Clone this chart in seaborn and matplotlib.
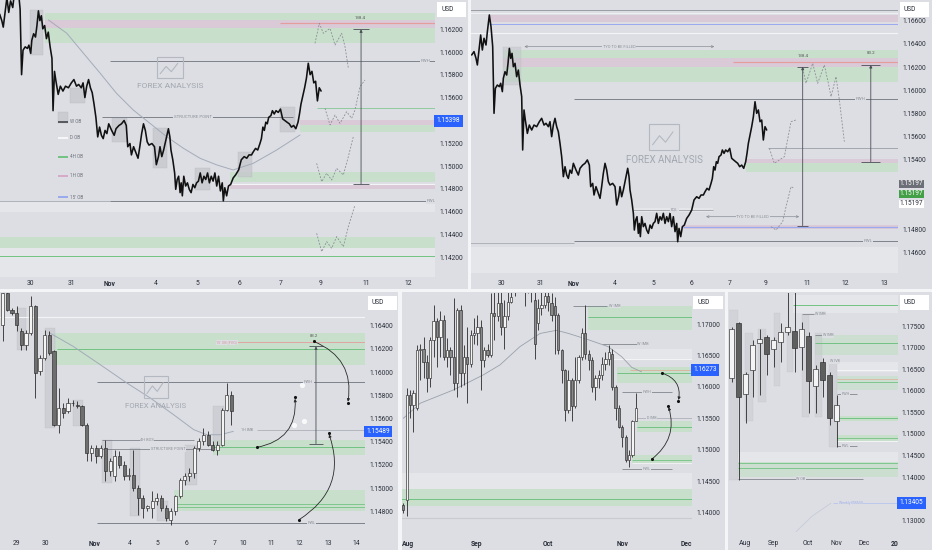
import numpy as np
import pandas as pd
import matplotlib
matplotlib.use("Agg")
import matplotlib.pyplot as plt
import seaborn as sns
from matplotlib.patches import Rectangle, FancyArrowPatch
from matplotlib.lines import Line2D

# ---------------------------------------------------------------- data
# Top panels (15m EURUSD, same series in both): time in trading-day units, price
TOP_T = [-0.789, -0.728, -0.675, -0.640, -0.588, -0.553, -0.509, -0.465, -0.413, -0.377,
         -0.325, -0.281, -0.237, -0.202, -0.167, -0.115, -0.062, -0.027, 0.017, 0.043,
         0.087, 0.131, 0.166, 0.201, 0.236, 0.271, 0.306, 0.350, 0.393, 0.437,
         0.481, 0.525, 0.551, 0.586, 0.621, 0.674, 0.726, 0.788, 0.849, 0.919,
         0.989, 1.050, 1.112, 1.164, 1.226, 1.269, 1.313, 1.357, 1.401, 1.445,
         1.488, 1.532, 1.576, 1.620, 1.664, 1.708, 1.751, 1.795, 1.839, 1.883,
         1.953, 2.014, 2.058, 2.128, 2.189, 2.251, 2.303, 2.338, 2.391, 2.426,
         2.478, 2.522, 2.584, 2.627, 2.671, 2.715, 2.759, 2.803, 2.846, 2.916,
         2.978, 3.022, 3.074, 3.109, 3.153, 3.197, 3.241, 3.285, 3.311, 3.346,
         3.372, 3.416, 3.460, 3.486, 3.521, 3.556, 3.591, 3.617, 3.644, 3.679,
         3.723, 3.766, 3.810, 3.854, 3.898, 3.942, 3.985, 4.029, 4.073, 4.117,
         4.161, 4.204, 4.248, 4.292, 4.336, 4.380, 4.423, 4.467, 4.511, 4.555,
         4.599, 4.625, 4.660, 4.704, 4.748, 4.800, 4.861, 4.923, 4.993, 5.054,
         5.124, 5.186, 5.238, 5.300, 5.343, 5.396, 5.448, 5.501, 5.536, 5.571,
         5.606, 5.641, 5.676, 5.711, 5.764, 5.799, 5.843, 5.886, 5.939, 5.992,
         6.044, 6.097, 6.149, 6.202, 6.254, 6.307, 6.360, 6.412, 6.447, 6.482,
         6.526, 6.570, 6.614, 6.657, 6.701, 6.745, 6.789, 6.833, 6.876, 6.920, 6.964]
TOP_P = [1.16305, 1.16334, 1.16276, 1.16219, 1.16377, 1.16477, 1.16348, 1.16449, 1.16391, 1.16506,
         1.16650, 1.16549, 1.16377, 1.15802, 1.16017, 1.16046, 1.16032, 1.16061, 1.15989, 1.16104,
         1.16161, 1.16132, 1.16233, 1.16362, 1.16276, 1.16319, 1.16204, 1.16233, 1.16118, 1.16175,
         1.16046, 1.15946, 1.15486, 1.15831, 1.15744, 1.15629, 1.15701, 1.15658, 1.15701, 1.15687,
         1.15730, 1.15759, 1.15701, 1.15716, 1.15687, 1.15730, 1.15601, 1.15701, 1.15759, 1.15687,
         1.15644, 1.15543, 1.15428, 1.15256, 1.15342, 1.15270, 1.15241, 1.15313, 1.15285, 1.15371,
         1.15313, 1.15270, 1.15328, 1.15356, 1.15371, 1.15400, 1.15356, 1.15170, 1.15198, 1.15098,
         1.15170, 1.15127, 1.15069, 1.15170, 1.15285, 1.15371, 1.15313, 1.15213, 1.15184, 1.15198,
         1.15170, 1.15012, 1.15084, 1.15170, 1.15083, 1.15141, 1.15213, 1.15285, 1.15328, 1.15256,
         1.15141, 1.15055, 1.14940, 1.14796, 1.14882, 1.14911, 1.14767, 1.14853, 1.14739, 1.14911,
         1.14825, 1.14853, 1.14796, 1.14767, 1.14839, 1.14810, 1.14853, 1.14868, 1.14940, 1.14853,
         1.14911, 1.14882, 1.14940, 1.14853, 1.14911, 1.14868, 1.14940, 1.14825, 1.14911, 1.14782,
         1.14853, 1.14695, 1.14810, 1.14739, 1.14825, 1.14839, 1.14896, 1.14925, 1.14968, 1.15055,
         1.15083, 1.15069, 1.15098, 1.15098, 1.15126, 1.15155, 1.15141, 1.15198, 1.15241, 1.15342,
         1.15313, 1.15385, 1.15371, 1.15428, 1.15443, 1.15486, 1.15457, 1.15486, 1.15471, 1.15500,
         1.15414, 1.15399, 1.15385, 1.15371, 1.15342, 1.15356, 1.15328, 1.15385, 1.15457, 1.15543,
         1.15615, 1.15687, 1.15773, 1.15902, 1.15802, 1.15831, 1.15730, 1.15744, 1.15572, 1.15687, 1.15658]
A_TICKS_X = [0, 1.0, 1.9, 3.0, 4.0, 5.0, 6.0, 6.94, 8.04, 9.04]
A_LABELS_X = ["30", "31", "Nov", "4", "5", "6", "7", "9", "11", "12"]
A_TICKS_Y = [1.142, 1.144, 1.146, 1.148, 1.150, 1.152, 1.156, 1.158, 1.160, 1.162]
B_TICKS_X = [0, 1.007, 1.892, 2.978, 3.995, 5.0, 6.0, 6.938, 8.024, 9.04, 10.05]
B_LABELS_X = ["30", "31", "Nov", "4", "5", "6", "7", "9", "11", "12", "13"]
B_TICKS_Y = [1.146, 1.148, 1.154, 1.156, 1.158, 1.160, 1.162, 1.164, 1.166]
A_EMA_T = [0.44, 0.88, 1.28, 1.68, 2.07, 2.47, 2.87, 3.27, 3.67, 4.07, 4.47, 4.86, 5.34, 5.90, 6.46]
A_EMA_P = [1.16282, 1.16165, 1.15989, 1.15814, 1.15638, 1.15492, 1.15375, 1.15258, 1.15156,
           1.15068, 1.15010, 1.14966, 1.15024, 1.15141, 1.15273]

# Bottom-left (4h candles)
C_O = [1.16409, 1.16682, 1.16538, 1.16509, 1.16351, 1.16236, 1.16337, 1.16567, 1.16007, 1.16121,
       1.16323, 1.16179, 1.15547, 1.15690, 1.15662, 1.15733, 1.15719, 1.15705, 1.15547, 1.15302,
       1.15345, 1.15274, 1.15345, 1.15144, 1.15101, 1.15274, 1.15202, 1.15101, 1.15116, 1.15001,
       1.14914, 1.14828, 1.14828, 1.14886, 1.14914, 1.14828, 1.14728, 1.14799, 1.14929, 1.15072,
       1.15101, 1.15130, 1.15345, 1.15403, 1.15460, 1.15374, 1.15331, 1.15374, 1.15676, 1.15805]
C_H = [1.16725, 1.16725, 1.16553, 1.16567, 1.16380, 1.16366, 1.16653, 1.16581, 1.16150, 1.16366,
       1.16351, 1.16193, 1.15863, 1.15733, 1.15777, 1.15762, 1.15748, 1.15719, 1.15561, 1.15374,
       1.15374, 1.15374, 1.15417, 1.15259, 1.15331, 1.15317, 1.15231, 1.15173, 1.15331, 1.15029,
       1.14943, 1.14857, 1.14972, 1.14958, 1.14943, 1.14857, 1.14828, 1.14943, 1.15087, 1.15130,
       1.15173, 1.15360, 1.15432, 1.15518, 1.15489, 1.15403, 1.15403, 1.15690, 1.15906, 1.15834]
C_L = [1.16265, 1.16524, 1.16495, 1.16351, 1.16193, 1.16193, 1.16323, 1.15777, 1.15978, 1.16107,
       1.16150, 1.15532, 1.15475, 1.15604, 1.15647, 1.15705, 1.15690, 1.15532, 1.15231, 1.15231,
       1.15216, 1.15259, 1.15058, 1.15101, 1.15058, 1.15173, 1.15072, 1.15072, 1.14972, 1.14771,
       1.14742, 1.14799, 1.14742, 1.14857, 1.14799, 1.14713, 1.14684, 1.14771, 1.14914, 1.15029,
       1.15058, 1.15087, 1.15317, 1.15374, 1.15360, 1.15317, 1.15288, 1.15360, 1.15662, 1.15547]
C_C = [1.16682, 1.16538, 1.16509, 1.16409, 1.16236, 1.16337, 1.16567, 1.15992, 1.16121, 1.16323,
       1.16165, 1.15547, 1.15690, 1.15647, 1.15733, 1.15730, 1.15705, 1.15547, 1.15302, 1.15345,
       1.15274, 1.15345, 1.15144, 1.15231, 1.15274, 1.15202, 1.15101, 1.15116, 1.15001, 1.14914,
       1.14828, 1.14843, 1.14886, 1.14914, 1.14828, 1.14742, 1.14799, 1.14929, 1.15072, 1.15101,
       1.15130, 1.15345, 1.15403, 1.15460, 1.15374, 1.15331, 1.15374, 1.15676, 1.15805, 1.15662]
C_TICKS_X = [3.0, 9.07, 19.6, 27.3, 33.2, 39.3, 45.4, 51.5, 57.6, 63.6, 69.7, 75.7]
C_LABELS_X = ["29", "30", "Nov", "4", "5", "6", "7", "10", "11", "12", "13", "14"]
C_TICKS_Y = [1.148, 1.150, 1.152, 1.154, 1.156, 1.158, 1.160, 1.162, 1.164]
C_EMA_X = [10.1, 15.1, 20.9, 26.6, 31.6, 36.6, 40.9, 43.7, 46.6, 49.4]
C_EMA_P = [1.16337, 1.16222, 1.16064, 1.15906, 1.15777, 1.15633, 1.15504, 1.15460, 1.15460, 1.15489]

# Bottom-middle (daily candles)
D_O = [1.1412, 1.1420, 1.1587, 1.1571, 1.1566, 1.1659, 1.1661, 1.1640, 1.1614, 1.1674,
       1.1704, 1.1680, 1.1706, 1.1648, 1.1659, 1.1648, 1.1606, 1.1722, 1.1622, 1.1648,
       1.1637, 1.1682, 1.1685, 1.1696, 1.1643, 1.1659, 1.1651, 1.1717, 1.1712, 1.1733,
       1.1696, 1.1712, 1.1735, 1.1760, 1.1800, 1.1780, 1.1850, 1.1760, 1.1800, 1.1738,
       1.1701, 1.1725, 1.1730, 1.1744, 1.1733, 1.1728, 1.1714, 1.1659, 1.1627, 1.1563,
       1.1611, 1.1569, 1.1611, 1.1648, 1.1685, 1.1653, 1.1643, 1.1600, 1.1614, 1.1619,
       1.1637, 1.1645, 1.1653, 1.1600, 1.1566, 1.1537, 1.1521, 1.1484, 1.1492, 1.1545]
D_H = [1.1415, 1.1598, 1.1595, 1.1595, 1.1667, 1.1669, 1.1680, 1.1651, 1.1680, 1.1730,
       1.1709, 1.1720, 1.1714, 1.1677, 1.1664, 1.1741, 1.1725, 1.1730, 1.1667, 1.1696,
       1.1690, 1.1709, 1.1714, 1.1706, 1.1664, 1.1669, 1.1749, 1.1760, 1.1760, 1.1760,
       1.1738, 1.1760, 1.1770, 1.1830, 1.1840, 1.1870, 1.1880, 1.1900, 1.1830, 1.1770,
       1.1740, 1.1760, 1.1770, 1.1760, 1.1750, 1.1743, 1.1717, 1.1661, 1.1629, 1.1627,
       1.1614, 1.1648, 1.1651, 1.1693, 1.1730, 1.1659, 1.1648, 1.1619, 1.1627, 1.1648,
       1.1656, 1.1667, 1.1661, 1.1603, 1.1571, 1.1539, 1.1523, 1.1500, 1.1547, 1.1590]
D_L = [1.1399, 1.1394, 1.1550, 1.1529, 1.1563, 1.1611, 1.1614, 1.1592, 1.1600, 1.1648,
       1.1632, 1.1648, 1.1643, 1.1632, 1.1619, 1.1595, 1.1584, 1.1600, 1.1603, 1.1574,
       1.1632, 1.1669, 1.1667, 1.1595, 1.1632, 1.1648, 1.1648, 1.1674, 1.1704, 1.1682,
       1.1661, 1.1706, 1.1733, 1.1745, 1.1755, 1.1765, 1.1728, 1.1750, 1.1735, 1.1645,
       1.1690, 1.1715, 1.1725, 1.1720, 1.1705, 1.1653, 1.1653, 1.1606, 1.1545, 1.1558,
       1.1545, 1.1566, 1.1606, 1.1643, 1.1645, 1.1627, 1.1592, 1.1579, 1.1598, 1.1611,
       1.1627, 1.1635, 1.1595, 1.1547, 1.1534, 1.1505, 1.1481, 1.1473, 1.1489, 1.1545]
D_C = [1.1404, 1.1587, 1.1571, 1.1590, 1.1659, 1.1661, 1.1640, 1.1614, 1.1674, 1.1704,
       1.1680, 1.1706, 1.1648, 1.1659, 1.1648, 1.1606, 1.1722, 1.1622, 1.1648, 1.1637,
       1.1682, 1.1685, 1.1696, 1.1643, 1.1659, 1.1651, 1.1717, 1.1712, 1.1733, 1.1696,
       1.1712, 1.1735, 1.1743, 1.1800, 1.1780, 1.1850, 1.1760, 1.1800, 1.1770, 1.1669,
       1.1725, 1.1730, 1.1744, 1.1735, 1.1714, 1.1714, 1.1659, 1.1627, 1.1563, 1.1611,
       1.1569, 1.1611, 1.1648, 1.1685, 1.1653, 1.1643, 1.1600, 1.1614, 1.1619, 1.1637,
       1.1645, 1.1656, 1.1600, 1.1566, 1.1537, 1.1521, 1.1484, 1.1492, 1.1545, 1.1566]
D_TICKS_X = [1.4, 21.8, 42.8, 65.1, 84.1]
D_LABELS_X = ["Aug", "Sep", "Oct", "Nov", "Dec"]
D_TICKS_Y = [1.140, 1.145, 1.150, 1.155, 1.160, 1.165, 1.170]
D_EMA_X = [0, 5, 14.8, 23.7, 28.7, 34.6, 40.6, 45.5, 49.0, 54.9, 60.8, 64.8, 67.8, 70.7]
D_EMA_P = [1.1550, 1.1574, 1.1595, 1.1619, 1.1635, 1.1664, 1.1685, 1.1690, 1.1685, 1.1675,
           1.1664, 1.1648, 1.1631, 1.1624]

# Bottom-right (weekly candles)
E_O = [1.1629, 1.1756, 1.1593, 1.1648, 1.1711, 1.1724, 1.1696, 1.1714, 1.1735, 1.1738,
       1.1702, 1.1727, 1.1610, 1.1667, 1.1636, 1.1531]
E_H = [1.1748, 1.1760, 1.1644, 1.1718, 1.1742, 1.1729, 1.1725, 1.1756, 1.1880, 1.1880,
       1.1760, 1.1737, 1.1660, 1.1675, 1.1644, 1.1590]
E_L = [1.1621, 1.1393, 1.1525, 1.1586, 1.1590, 1.1637, 1.1656, 1.1667, 1.1729, 1.1644,
       1.1648, 1.1548, 1.1548, 1.1586, 1.1521, 1.1471]
E_C = [1.1742, 1.1586, 1.1640, 1.1706, 1.1721, 1.1685, 1.1718, 1.1735, 1.1747, 1.1698,
       1.1742, 1.1623, 1.1650, 1.1625, 1.1536, 1.1566]
E_TICKS_X = [1.9, 5.9, 10.9, 14.9, 18.9, 23.3]
E_LABELS_X = ["Aug", "Sep", "Oct", "Nov", "Dec", "20"]
E_TICKS_Y = [1.130, 1.140, 1.145, 1.150, 1.155, 1.160, 1.165, 1.170, 1.175]

# ---------------------------------------------------------------- style
sns.set_theme(style="white")
plt.rcParams["font.family"] = ["Roboto", "DejaVu Sans"]

W, H = 932, 550
BG = "#dcdee3"
GAP = "#f4f5f7"
TXT = "#2b2f3a"
MUTED = "#8c9097"
GREEN_BAND = "#c8dfcc"
GREEN_LINE = "#72c383"
PINK_BAND = "#dac9d7"
RED_LINE = "#e59c9c"
BLUE_LINE = "#98a9ee"
LIGHT_BAND = "#e5e6e9"
OB_GRAY = "#c4c6cb"
BLUE_LABEL = "#2962ff"
WM = "#d4d6db"

fig = plt.figure(figsize=(W / 100, H / 100), dpi=100, facecolor=GAP)


def frac_rect(x0, y0, x1, y1):
    return [x0 / W, 1 - y1 / H, (x1 - x0) / W, (y1 - y0) / H]


def panel_bg(x0, y0, x1, y1):
    r = frac_rect(x0, y0, x1, y1)
    fig.add_artist(Rectangle((r[0], r[1]), r[2], r[3], transform=fig.transFigure,
                             fc=BG, ec="none", zorder=-5))


def make_axes(rect, xlim, ylim, yticks, xticks, xlabels, bold, ypad=3.4, xpad=2.5):
    ax = fig.add_axes(frac_rect(*rect))
    ax.set_facecolor(BG)
    ax.set_xlim(*xlim)
    ax.set_ylim(*ylim)
    for s in ax.spines.values():
        s.set_visible(False)
    ax.grid(False)
    ax.yaxis.tick_right()
    ax.set_yticks(yticks)
    ax.set_yticklabels([f"{v:.5f}" for v in yticks])
    ax.tick_params(axis="y", length=0, pad=ypad, labelsize=4.7, colors=TXT,
                   left=False, labelleft=False, right=False, labelright=True)
    ax.set_xticks(xticks)
    ax.set_xticklabels(xlabels)
    ax.tick_params(axis="x", length=0, pad=xpad, labelsize=4.9, colors=TXT)
    for lbl in ax.get_xticklabels():
        if lbl.get_text() in bold:
            lbl.set_fontweight("bold")
    ax.set_xlabel("")
    ax.set_ylabel("")
    return ax


def band(ax, x0, x1, lo, hi, color, alpha=1.0, z=1):
    xa, xb = ax.get_xlim()
    x0 = xa - 1 if x0 is None else x0
    x1 = xb + 1 if x1 is None else x1
    ax.add_patch(Rectangle((x0, lo), x1 - x0, hi - lo, fc=color, ec="none",
                           alpha=alpha, zorder=z))


def hline(ax, x0, x1, p, color, lw=0.6, z=2):
    xa, xb = ax.get_xlim()
    x0 = xa - 1 if x0 is None else x0
    x1 = xb + 1 if x1 is None else x1
    ax.hlines(p, x0, x1, colors=color, lw=lw, zorder=z)


def tag(ax, x, p, s, color=MUTED, fs=3.2, box=True):
    kw = dict(fontsize=fs, color=color, ha="center", va="center", zorder=6)
    if box:
        kw["bbox"] = dict(fc=BG, ec="none", pad=0.4)
    ax.text(x, p, s, **kw)


def ob(ax, x0, x1, lo, hi, alpha=0.75):
    ax.add_patch(Rectangle((x0, lo), x1 - x0, hi - lo, fc=OB_GRAY, ec="#b5b7bd",
                           lw=0.3, alpha=alpha, zorder=1.5))


def candles(ax, x, o, h, l, c, width, bear="#6e6e6e", bull="#f4f4f4"):
    x = np.asarray(x, float)
    o, h, l, c = map(np.asarray, (o, h, l, c))
    ax.vlines(x, l, h, colors="#2a2a2a", lw=0.6, zorder=3)
    body_lo = np.minimum(o, c)
    body_h = np.maximum(np.abs(c - o), (ax.get_ylim()[1] - ax.get_ylim()[0]) * 0.003)
    faces = [bull if cc >= oo else bear for oo, cc in zip(o, c)]
    ax.bar(x, body_h, bottom=body_lo, width=width, color=faces, edgecolor="#2a2a2a",
           linewidth=0.45, zorder=3.5)


def measure(ax, x, lo, hi, half):
    ax.annotate("", xy=(x, hi), xytext=(x, lo),
                arrowprops=dict(arrowstyle="-|>", lw=0.6, color="#4a4d55",
                                mutation_scale=4, shrinkA=0, shrinkB=0), zorder=5)
    ax.hlines([lo, hi], x - half, x + half, colors="#4a4d55", lw=0.6, zorder=5)


def dashed(ax, xs, ps):
    ax.plot(xs, ps, color="#8b8e95", lw=0.6, dashes=(2.2, 1.8), zorder=4)


def tyo(ax, x0, x1, p, s):
    ax.annotate("", xy=(x0, p), xytext=(x1, p),
                arrowprops=dict(arrowstyle="<->", lw=0.5, color="#8b8e95",
                                mutation_scale=4, shrinkA=0, shrinkB=0), zorder=4)
    tag(ax, (x0 + x1) / 2, p, s, fs=2.8)


def curve(ax, a, b, rad):
    ax.add_patch(FancyArrowPatch(a, b, connectionstyle=f"arc3,rad={rad}",
                                 arrowstyle="-|>", mutation_scale=4, lw=0.6,
                                 color="#2a2a2a", zorder=5, shrinkA=0, shrinkB=1))
    ax.scatter([a[0], b[0]], [a[1], b[1]], s=5, color="#111", zorder=6, linewidths=0)


def price_box(ax, p, text, fc, tc="white", dx=0.004, pad=0.35):
    ax.text(1 + dx, p, text, transform=ax.get_yaxis_transform(), ha="left", va="center",
            fontsize=4.7, color=tc, zorder=8, clip_on=False,
            bbox=dict(boxstyle=f"square,pad={pad}", fc=fc, ec="none"))


def usd_box(x0, y0, x1, y1):
    r = frac_rect(x0, y0, x1, y1)
    fig.add_artist(Rectangle((r[0], r[1]), r[2], r[3], transform=fig.transFigure,
                             fc="white", ec="none", zorder=10))
    fig.text((x0 + 4) / W, 1 - (y0 + y1) / 2 / H, "USD", fontsize=4.8, color=TXT,
             ha="left", va="center", zorder=11)


def brand(cx, ty, logo_w, logo_h, fs):
    x0, y0 = cx - logo_w / 2, ty
    r = frac_rect(x0, y0, x0 + logo_w, y0 + logo_h)
    fig.add_artist(Rectangle((r[0], r[1]), r[2], r[3], transform=fig.transFigure,
                             fill=False, ec="#b4b8c0", lw=0.8, zorder=4))
    zx = [x0 + logo_w * f for f in (0.12, 0.35, 0.55, 0.8)]
    zy = [y0 + logo_h * f for f in (0.8, 0.45, 0.7, 0.3)]
    fig.add_artist(Line2D([v / W for v in zx], [1 - v / H for v in zy],
                          transform=fig.transFigure, color="#b4b8c0", lw=0.8, zorder=4))
    fig.text(cx / W, 1 - (ty + logo_h + fs * 1.4) / H, "FOREX ANALYSIS", fontsize=fs,
             color="#a3a7af", ha="center", va="center", zorder=4)


def watermark(cx, cy, s, fs):
    fig.text(cx / W, 1 - cy / H, s, fontsize=fs, color=WM, ha="center", va="center",
             zorder=-4, fontweight="bold")


# ---------------------------------------------------------------- panel backgrounds
panel_bg(0, 0, 468, 289)
panel_bg(471, 0, 932, 289)
panel_bg(0, 292, 398, 550)
panel_bg(402, 292, 725, 550)
panel_bg(728, 292, 932, 550)

watermark(235, 138, "EURUSD, 1h", 27)
watermark(690, 128, "EURUSD, 15", 34)
watermark(200, 383, "EURUSD, 4h", 20)
watermark(557, 407, "EURUSD, 1D", 20)
watermark(820, 405, "EURUSD, 1W", 15)

# ================================================================ Panel A (top-left)
axA = make_axes((0, 0, 435, 277), (-0.718, 9.689), (1.14027, 1.16457),
                A_TICKS_Y, A_TICKS_X, A_LABELS_X, {"Nov"})
band(axA, 0.36, None, 1.16077, 1.16340, GREEN_BAND)
band(axA, 0.36, None, 1.16208, 1.16282, PINK_BAND)
band(axA, 6.46, None, 1.15361, 1.15404, PINK_BAND)
band(axA, 6.46, None, 1.15302, 1.15361, GREEN_BAND)
band(axA, 4.78, None, 1.14864, 1.14951, GREEN_BAND)
band(axA, 4.78, None, 1.14796, 1.14834, PINK_BAND)
band(axA, None, None, 1.14600, 1.14688, LIGHT_BAND)
band(axA, None, None, 1.14279, 1.14381, GREEN_BAND)
band(axA, None, None, 1.14030, 1.14279, LIGHT_BAND)
hline(axA, 5.98, None, 1.16252, RED_LINE, 0.8)
hline(axA, 1.91, None, 1.15922, "#6f737b", 0.6)
hline(axA, 1.72, 6.3, 1.15434, "#6f737b", 0.6)
hline(axA, 6.86, None, 1.15507, GREEN_LINE, 0.5)
hline(axA, 4.78, None, 1.14840, "#f3f4f6", 0.8)
hline(axA, None, 1.91, 1.14694, "#9da1a8", 0.5)
hline(axA, 1.91, None, 1.14694, "#6f737b", 0.6)
hline(axA, None, None, 1.14214, GREEN_LINE, 0.7)
for r in [(0.0, 0.32, 1.15975, 1.16369), (0.957, 1.316, 1.15550, 1.15682),
          (1.954, 2.313, 1.15214, 1.15419), (2.95, 3.27, 1.14980, 1.15331),
          (3.95, 4.31, 1.14790, 1.14980), (4.98, 5.30, 1.14907, 1.15127),
          (5.98, 6.34, 1.15302, 1.15521)]:
    ob(axA, *r)
sns.lineplot(x=A_EMA_T, y=A_EMA_P, ax=axA, color="#a4abb8", lw=0.7, estimator=None,
             sort=False, zorder=2)
sns.lineplot(x=TOP_T, y=TOP_P, ax=axA, color="#111111", lw=1.15, estimator=None,
             sort=False, zorder=3)
tag(axA, 3.9, 1.15434, "STRUCTURE POINT")
tag(axA, 9.45, 1.15922, "PWH")
tag(axA, 9.6, 1.14694, "PWL")
tag(axA, 7.89, 1.16296, "138.4", color="#555", box=False)
measure(axA, 7.92, 1.14840, 1.16200, 0.2)
dashed(axA, [6.818, 6.922, 7.018, 7.177, 7.297, 7.456, 7.536, 7.616],
       [1.16077, 1.16252, 1.16165, 1.16208, 1.16062, 1.16165, 1.16048, 1.15858])
dashed(axA, [7.057, 7.177, 7.297, 7.416, 7.576, 7.695, 7.775, 7.895, 8.014],
       [1.15507, 1.15361, 1.15448, 1.15375, 1.15477, 1.15419, 1.15492, 1.15697, 1.15755])
dashed(axA, [6.858, 6.978, 7.097, 7.217, 7.336, 7.496, 7.616, 7.735],
       [1.15024, 1.14863, 1.14937, 1.14878, 1.14980, 1.14922, 1.15083, 1.15258])
dashed(axA, [6.858, 6.978, 7.097, 7.217, 7.336, 7.496, 7.616, 7.775],
       [1.14410, 1.14249, 1.14337, 1.14279, 1.14381, 1.14293, 1.14469, 1.14659])
ob(axA, 0.67, 0.91, 1.15375, 1.15477)
legend_items = [("W OB", 1.15389, "#55585f"), ("D OB", 1.15249, "#f7f7f7"),
                ("4H OB", 1.15082, GREEN_LINE), ("1H OB", 1.14916, "#d8a9c9"),
                ("15' OB", 1.14726, BLUE_LINE)]
for name, p, col in legend_items:
    axA.hlines(p, 0.67, 0.91, colors=col, lw=1.4, zorder=4)
    axA.text(0.95, p, name, fontsize=3.3, color="#6f737b", ha="left", va="center", zorder=5)
price_box(axA, 1.15398, "1.15398", BLUE_LABEL)

# ================================================================ Panel B (top-right)
axB = make_axes((471, 0, 898, 277), (-0.807, 10.415), (1.14391, 1.16779),
                B_TICKS_Y, B_TICKS_X, B_LABELS_X, {"Nov"})
band(axB, -0.325, None, 1.16592, 1.16650, PINK_BAND)
band(axB, 0.026, None, 1.16075, 1.16348, GREEN_BAND)
band(axB, 0.026, None, 1.16204, 1.16276, PINK_BAND)
band(axB, 6.42, None, 1.15371, 1.15405, PINK_BAND)
band(axB, 6.42, None, 1.15299, 1.15371, GREEN_BAND)
band(axB, 4.76, None, 1.14808, 1.14842, PINK_BAND)
band(axB, 3.44, 5.54, 1.14950, 1.14985, LIGHT_BAND)
band(axB, None, None, 1.14423, 1.14652, LIGHT_BAND)
ob(axB, 0.026, 0.507, 1.16050, 1.16377, alpha=0.55)
hline(axB, None, None, 1.16693, "#8e9299", 0.6)
hline(axB, None, None, 1.16670, "#f3f4f6", 0.6)
hline(axB, -0.325, None, 1.16572, BLUE_LINE, 0.7)
hline(axB, None, None, 1.16492, "#f3f4f6", 0.8)
hline(axB, 6.07, None, 1.16247, RED_LINE, 0.8)
hline(axB, 1.909, None, 1.15923, "#6f737b", 0.6)
hline(axB, 6.99, None, 1.15506, "#8e9299", 0.5)
hline(axB, 3.44, 5.54, 1.14968, "#8e9299", 0.5)
hline(axB, 4.76, None, 1.14825, BLUE_LINE, 0.8)
hline(axB, 1.909, None, 1.14704, "#6f737b", 0.6)
hline(axB, None, 1.909, 1.14681, "#9da1a8", 0.5)
sns.lineplot(x=TOP_T, y=TOP_P, ax=axB, color="#111111", lw=1.15, estimator=None,
             sort=False, zorder=3)
tag(axB, 9.44, 1.15923, "PWH")
tag(axB, 9.62, 1.14704, "PWL")
tag(axB, 4.54, 1.14968, "EQL", fs=2.8)
tag(axB, 7.91, 1.16300, "138.4", color="#555", box=False)
tag(axB, 9.70, 1.16320, "83.2", color="#555", box=False)
tyo(axB, 0.595, 5.588, 1.16377, "TYO TO BE FILLED")
tyo(axB, 5.37, 7.82, 1.14911, "TYO TO BE FILLED")
measure(axB, 7.91, 1.14834, 1.16204, 0.15)
measure(axB, 9.70, 1.15385, 1.16219, 0.25)
dashed(axB, [7.910, 7.998, 8.173, 8.304, 8.479, 8.567, 8.655, 8.786, 8.874, 9.005],
       [1.16190, 1.16061, 1.16233, 1.16061, 1.16219, 1.16089, 1.15946, 1.16118, 1.15917, 1.15558])
dashed(axB, [7.034, 7.165, 7.297, 7.428, 7.603, 7.735],
       [1.15500, 1.15371, 1.15400, 1.15428, 1.15730, 1.15745])
dashed(axB, [7.078, 7.209, 7.384, 7.472, 7.603, 7.691],
       [1.14825, 1.14796, 1.14868, 1.14997, 1.15170, 1.15155])
price_box(axB, 1.15193, "1.15197", "#6c6f77", pad=0.12)
price_box(axB, 1.15107, "1.15197", "#43a047", pad=0.12)
price_box(axB, 1.15021, "1.15197", "white", tc=TXT, pad=0.12)

# ================================================================ Panel C (bottom-left)
axC = make_axes((0, 293, 365, 534), (-0.57, 77.6), (1.14604, 1.16682),
                C_TICKS_Y, C_TICKS_X, C_LABELS_X, {"Nov"}, xpad=4.0)
band(axC, 10.9, None, 1.16064, 1.16337, GREEN_BAND)
band(axC, 45.1, None, 1.15288, 1.15417, GREEN_BAND)
band(axC, 36.6, None, 1.14800, 1.14987, GREEN_BAND)
hline(axC, None, None, 1.16472, "#f3f4f6", 0.8)
hline(axC, 11.6, None, 1.16202, GREEN_LINE, 0.7)
hline(axC, 49.4, None, 1.16257, RED_LINE, 0.6)
hline(axC, 20.1, None, 1.15915, "#6f737b", 0.6)
hline(axC, 54.4, None, 1.15504, "#a3a7ae", 0.5)
hline(axC, 45.1, None, 1.15351, GREEN_LINE, 0.7)
hline(axC, 21.2, 40.9, 1.15417, "#6f737b", 0.5)
hline(axC, 21.2, 45.1, 1.15337, "#6f737b", 0.5)
hline(axC, 36.6, None, 1.14863, GREEN_LINE, 0.6)
hline(axC, 36.6, None, 1.14834, GREEN_LINE, 0.6)
hline(axC, 20.1, None, 1.14699, "#6f737b", 0.6)
for r in [(9.1, 11.2, 1.15518, 1.16380), (3.0, 5.1, 1.16193, 1.16553),
          (15.1, 17.3, 1.15532, 1.15762), (21.2, 23.4, 1.15044, 1.15417),
          (27.3, 29.4, 1.14756, 1.15345), (33.0, 35.5, 1.14713, 1.14886),
          (39.1, 41.6, 1.15029, 1.15374), (45.1, 47.3, 1.15374, 1.15705)]:
    ob(axC, *r, alpha=0.6)
sns.lineplot(x=C_EMA_X, y=C_EMA_P, ax=axC, color="#a4abb8", lw=0.7, estimator=None,
             sort=False, zorder=2)
candles(axC, np.arange(len(C_O)), C_O, C_H, C_L, C_C, 0.66)
tag(axC, 30.9, 1.15417, "4H BOS", fs=2.9)
tag(axC, 35.5, 1.15337, "STRUCTURE POINT", fs=2.9)
tag(axC, 65.5, 1.15915, "PWH", fs=2.9)
tag(axC, 66.2, 1.14699, "PWL", fs=2.9)
tag(axC, 48.0, 1.16257, "15' OB (FVG)", color="#d49a9a", fs=2.7)
tag(axC, 52.3, 1.15504, "1H IMB", fs=2.7)
tag(axC, 66.6, 1.16308, "83.2", color="#555", box=False, fs=3.0)
measure(axC, 67.1, 1.15383, 1.16222, 1.6)
curve(axC, (54.4, 1.15351), (62.6, 1.15782), 0.45)
curve(axC, (63.5, 1.14728), (69.8, 1.15475), 0.4)
curve(axC, (66.6, 1.16265), (73.9, 1.15733), -0.4)
axC.scatter([64.1, 62.3, 64.6], [1.15892, 1.15547, 1.15581], s=14, color="white",
            alpha=0.85, linewidths=0, zorder=6)
price_box(axC, 1.15489, "1.15489", BLUE_LABEL)

# ================================================================ Panel D (bottom-middle)
axD = make_axes((402, 293, 692, 534), (-0.39, 85.67), (1.13661, 1.17493),
                D_TICKS_Y, D_TICKS_X, D_LABELS_X, set(D_LABELS_X), xpad=4.0)
band(axD, None, None, 1.1436, 1.1463, LIGHT_BAND)
band(axD, None, None, 1.1410, 1.1437, GREEN_BAND)
hline(axD, None, None, 1.1422, GREEN_LINE, 0.7)
hline(axD, None, None, 1.1391, "#c9cbd0", 0.8)
band(axD, 54.9, None, 1.1690, 1.1728, GREEN_BAND)
hline(axD, 54.9, None, 1.1711, GREEN_LINE, 0.7)
band(axD, 62.3, None, 1.1643, 1.1661, LIGHT_BAND)
hline(axD, 62.3, None, 1.1645, "#f3f4f6", 0.8)
band(axD, 63.3, None, 1.1606, 1.1632, GREEN_BAND)
hline(axD, 63.3, None, 1.1622, GREEN_LINE, 0.7)
hline(axD, 67.3, None, 1.1627, "#d9b6a0", 0.7)
band(axD, 69.3, None, 1.1529, 1.1545, GREEN_BAND)
hline(axD, 69.3, None, 1.1537, GREEN_LINE, 0.7)
hline(axD, 69.3, None, 1.1550, "#a3a7ae", 0.5)
band(axD, 67.8, None, 1.1479, 1.1492, GREEN_BAND)
hline(axD, 67.8, None, 1.1484, GREEN_LINE, 0.6)
hline(axD, 67.8, None, 1.1479, "#f3f4f6", 0.6)
hline(axD, 50.5, 60.4, 1.1729, "#6f737b", 0.5)
hline(axD, 58.9, 69.8, 1.1669, "#6f737b", 0.5)
hline(axD, 64.8, 79.6, 1.1592, "#6f737b", 0.5)
hline(axD, 64.8, 79.6, 1.1470, "#6f737b", 0.5)
sns.lineplot(x=D_EMA_X, y=D_EMA_P, ax=axD, color="#9aa0aa", lw=0.6, estimator=None,
             sort=False, zorder=2)
candles(axD, np.arange(len(D_O)), D_O, D_H, D_L, D_C, 0.68, bear="#8a8a8a")
tag(axD, 62.8, 1.1729, "W IMB", fs=2.8)
tag(axD, 71.2, 1.1669, "W IMB", fs=2.8)
tag(axD, 72.2, 1.1592, "PWH", fs=2.8)
tag(axD, 72.2, 1.1470, "PWL", fs=2.8)
tag(axD, 73.7, 1.1550, "D IMB", fs=2.6)
curve(axD, (76.7, 1.1622), (81.6, 1.1577), -0.45)
curve(axD, (73.7, 1.1485), (78.6, 1.1570), 0.35)
price_box(axD, 1.16273, "1.16273", BLUE_LABEL)

# ================================================================ Panel E (bottom-right)
axE = make_axes((729, 293, 898, 534), (-0.386, 23.76), (1.12685, 1.18264),
                E_TICKS_Y, E_TICKS_X, E_LABELS_X, {"20"}, ypad=2.7, xpad=4.0)
for r in [(-0.5, 0.95, 1.1393, 1.1787), (1.9, 3.0, 1.1529, 1.1733), (3.8, 4.9, 1.1575, 1.1742),
          (6.0, 6.9, 1.1610, 1.1779), (7.9, 8.8, 1.1644, 1.1741), (10.0, 11.0, 1.1540, 1.1775),
          (11.9, 12.9, 1.1540, 1.1733), (13.9, 15.0, 1.1471, 1.1671)]:
    ob(axE, *r, alpha=0.45)
band(axE, 8.8, None, 1.1779, 1.1822, LIGHT_BAND)
hline(axE, 8.8, None, 1.1799, GREEN_LINE, 0.7)
band(axE, 11.9, None, 1.1683, 1.1729, GREEN_BAND, alpha=0.8)
hline(axE, 11.9, None, 1.1711, GREEN_LINE, 0.7)
band(axE, 15.0, None, 1.1644, 1.1667, LIGHT_BAND)
hline(axE, 15.0, None, 1.1648, "#f3f4f6", 0.8)
band(axE, 15.0, None, 1.1602, 1.1634, GREEN_BAND, alpha=0.7)
hline(axE, 15.0, None, 1.1621, GREEN_LINE, 0.6)
hline(axE, 15.0, None, 1.1628, "#d9b6a0", 0.6)
band(axE, 15.0, None, 1.1530, 1.1542, GREEN_BAND)
hline(axE, 15.0, None, 1.1536, GREEN_LINE, 0.7)
band(axE, 15.0, None, 1.1482, 1.1498, GREEN_BAND)
hline(axE, 15.0, None, 1.1490, GREEN_LINE, 0.6)
hline(axE, 15.0, None, 1.1484, "#f3f4f6", 0.7)
band(axE, 0.95, None, 1.1436, 1.1459, LIGHT_BAND)
band(axE, 0.95, None, 1.1401, 1.1436, GREEN_BAND, alpha=0.8)
hline(axE, 0.95, None, 1.1432, GREEN_LINE, 0.6)
hline(axE, 0.95, None, 1.1422, GREEN_LINE, 0.6)
hline(axE, 0.95, 18.8, 1.1396, "#6f737b", 0.5)
hline(axE, 10.0, 11.7, 1.1778, "#6f737b", 0.5)
hline(axE, 11.9, 12.9, 1.1729, "#6f737b", 0.5)
hline(axE, 13.9, 14.4, 1.1669, "#6f737b", 0.5)
hline(axE, 15.0, 17.9, 1.1592, "#6f737b", 0.5)
hline(axE, 15.0, 17.9, 1.1472, "#6f737b", 0.5)
hline(axE, 14.5, None, 1.1340, "#b9c3ee", 0.6)
axE.plot([9.2, 11.5, 14.2], [1.1274, 1.1310, 1.1340], color="#c3c8d6", lw=0.5, zorder=2)
candles(axE, np.arange(len(E_O)), E_O, E_H, E_L, E_C, 0.7, bear="#5e5e5e")
tag(axE, 12.7, 1.1778, "W IMB", fs=2.7)
tag(axE, 13.8, 1.1729, "W IMB", fs=2.7)
tag(axE, 14.7, 1.1669, "W IVB", fs=2.7)
tag(axE, 16.3, 1.1592, "PWH", fs=2.7)
tag(axE, 16.3, 1.1472, "PWL", fs=2.7)
tag(axE, 9.9, 1.1396, "W OB", fs=2.7)
tag(axE, 17.0, 1.1340, "Weekly EMA50", color="#9fb0ea", fs=2.6)
price_box(axE, 1.13405, "1.13405", BLUE_LABEL, dx=0.01)

# ---------------------------------------------------------------- overlays in pixels
usd_box(437, 2, 466, 17)
usd_box(900, 2, 929, 17)
usd_box(368, 296, 397, 310)
usd_box(693, 296, 723, 309)
usd_box(900, 295, 929, 310)

brand(170, 57, 26, 21, 6.0)
brand(664, 124, 30, 26, 7.0)
brand(156, 376, 24, 22, 5.6)

fig.savefig("out.png", dpi=100, facecolor=fig.get_facecolor())
